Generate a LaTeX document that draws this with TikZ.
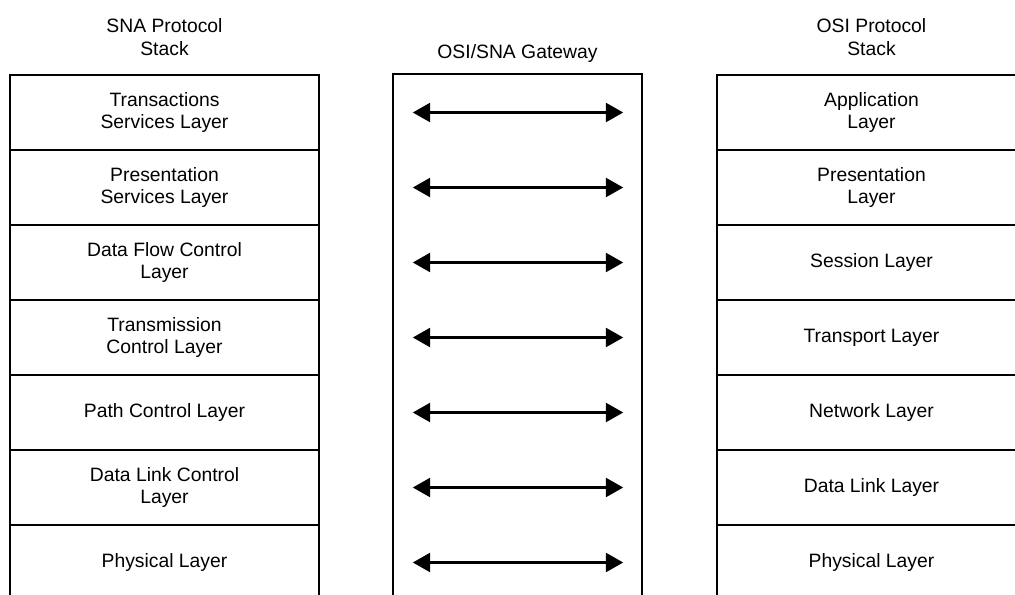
\documentclass[tikz,border=0pt]{standalone}
\usepackage{fontspec}
\setmainfont{Liberation Sans}
\usetikzlibrary{arrows.meta}

\begin{document}
\begin{tikzpicture}[x=0.75pt, y=-0.75pt,
    layer/.style={rectangle, draw, line width=1.4pt, minimum width=231.75pt, minimum height=56.25pt, inner sep=0pt, align=center, font=\fontsize{14.5}{17}\selectfont},
    title/.style={inner sep=0pt, align=center, font=\fontsize{14.5}{17}\selectfont},
    slot/.style={inner sep=0pt, minimum width=157.5pt, minimum height=1pt},
    link/.style={{Triangle[length=13pt, width=14pt]}-{Triangle[length=13pt, width=14pt]}, line width=2.3pt}]

    \useasboundingbox (0,0) rectangle (1015,594);

    % Titles
    \node[title] (snat) at (164.5,37) {SNA Protocol\\Stack};
    \node[title, anchor=base] (gwt) at (517.5,58) {OSI/SNA Gateway};
    \node[title] (osit) at (871.5,37) {OSI Protocol\\Stack};

    % SNA stack
    \node[layer] (sna1) at (164.5,112.5) {Transactions\\Services Layer};
    \node[layer] (sna2) at (164.5,187.5) {Presentation\\Services Layer};
    \node[layer] (sna3) at (164.5,262.5) {Data Flow Control\\Layer};
    \node[layer] (sna4) at (164.5,337.5) {Transmission\\Control Layer};
    \node[layer] (sna5) at (164.5,412.5) {Path Control Layer};
    \node[layer] (sna6) at (164.5,487.5) {Data Link Control\\Layer};
    \node[layer] (sna7) at (164.5,562.5) {Physical Layer};

    % Gateway box
    \node[rectangle, draw, line width=1.4pt, minimum width=186.75pt, minimum height=405pt, anchor=north] (gw) at (517.5,73) {};

    % OSI stack
    \node[layer] (osi1) at (871.5,112.5) {Application\\Layer};
    \node[layer] (osi2) at (871.5,187.5) {Presentation\\Layer};
    \node[layer] (osi3) at (871.5,262.5) {Session Layer};
    \node[layer] (osi4) at (871.5,337.5) {Transport Layer};
    \node[layer] (osi5) at (871.5,412.5) {Network Layer};
    \node[layer] (osi6) at (871.5,487.5) {Data Link Layer};
    \node[layer] (osi7) at (871.5,562.5) {Physical Layer};

    % Gateway mappings
    \node[slot] (map1) at (518,112.5) {};
    \node[slot] (map2) at (518,187.5) {};
    \node[slot] (map3) at (518,262.5) {};
    \node[slot] (map4) at (518,337.5) {};
    \node[slot] (map5) at (518,412.5) {};
    \node[slot] (map6) at (518,487.5) {};
    \node[slot] (map7) at (518,562.5) {};

    \draw[link] (map1.west) -- (map1.east);
    \draw[link] (map2.west) -- (map2.east);
    \draw[link] (map3.west) -- (map3.east);
    \draw[link] (map4.west) -- (map4.east);
    \draw[link] (map5.west) -- (map5.east);
    \draw[link] (map6.west) -- (map6.east);
    \draw[link] (map7.west) -- (map7.east);
\end{tikzpicture}
\end{document}
